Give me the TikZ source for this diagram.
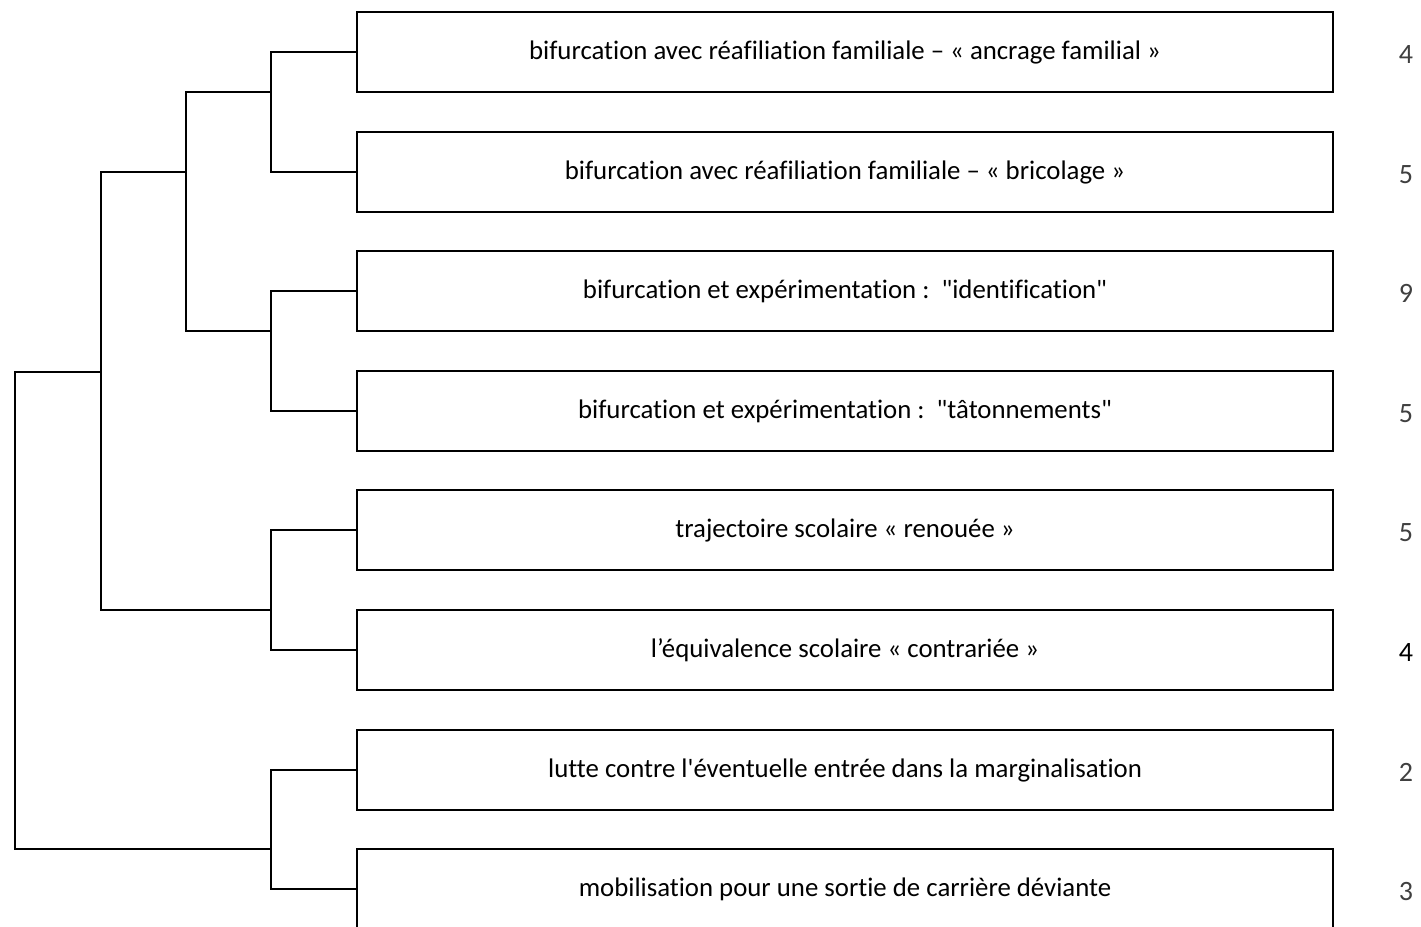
\documentclass[tikz,border=0pt]{standalone}
\usepackage{fontspec}
\newfontfamily\carl[Ligatures=NoCommon]{Carlito}
\definecolor{numgray}{HTML}{404040}
\begin{document}
\begin{tikzpicture}[x=1pt,y=-1pt,
  line/.style={line width=1.7pt,black},
  leafbox/.style={draw,line width=1.7pt,minimum width=976pt,minimum height=80pt,inner sep=0pt,text height=15pt,text depth=0pt,font=\carl\fontsize{26.8}{30}\selectfont},
  count/.style={font=\carl\fontsize{28}{32}\selectfont,text=numgray,inner sep=0pt,text height=23pt,text depth=0pt}]
\useasboundingbox (0,0) rectangle (1421,926);
\clip (0,0) rectangle (1421,926);
\node[leafbox] (b1) at (845,52) {bifurcation avec réafiliation familiale – « ancrage familial »};
\node[leafbox] (b2) at (845,172) {bifurcation avec réafiliation familiale – « bricolage »};
\node[leafbox] (b3) at (845,291) {bifurcation et expérimentation :\ \ "identification"};
\node[leafbox] (b4) at (845,411) {bifurcation et expérimentation :\ \ "tâtonnements"};
\node[leafbox] (b5) at (845,530) {trajectoire scolaire « renouée »};
\node[leafbox] (b6) at (845,650) {l’équivalence scolaire « contrariée »};
\node[leafbox] (b7) at (845,770) {lutte contre l'éventuelle entrée dans la marginalisation};
\node[leafbox] (b8) at (845,889) {mobilisation pour une sortie de carrière déviante};
\node[count] (n1) at (1406,52) {4};
\node[count] (n2) at (1406,172) {5};
\node[count] (n3) at (1406,291) {9};
\node[count] (n4) at (1406,411) {5};
\node[count] (n5) at (1406,530) {5};
\node[count,text=black] (n6) at (1406,650) {4};
\node[count] (n7) at (1406,770) {2};
\node[count] (n8) at (1406,889) {3};
\coordinate (j12) at (271,92);
\coordinate (j34) at (271,331);
\coordinate (j56) at (271,610);
\coordinate (j78) at (271,849);
\coordinate (j14) at (186,172);
\coordinate (j16) at (101,372);
\coordinate (root) at (15,600);
\draw[line] (j12) |- (b1.west);
\draw[line] (j12) |- (b2.west);
\draw[line] (j34) |- (b3.west);
\draw[line] (j34) |- (b4.west);
\draw[line] (j56) |- (b5.west);
\draw[line] (j56) |- (b6.west);
\draw[line] (j78) |- (b7.west);
\draw[line] (j78) |- (b8.west);
\draw[line] (j14) |- (j12);
\draw[line] (j14) |- (j34);
\draw[line] (j16) |- (j14);
\draw[line] (j16) |- (j56);
\draw[line] (root) |- (j16);
\draw[line] (root) |- (j78);
\end{tikzpicture}
\end{document}
